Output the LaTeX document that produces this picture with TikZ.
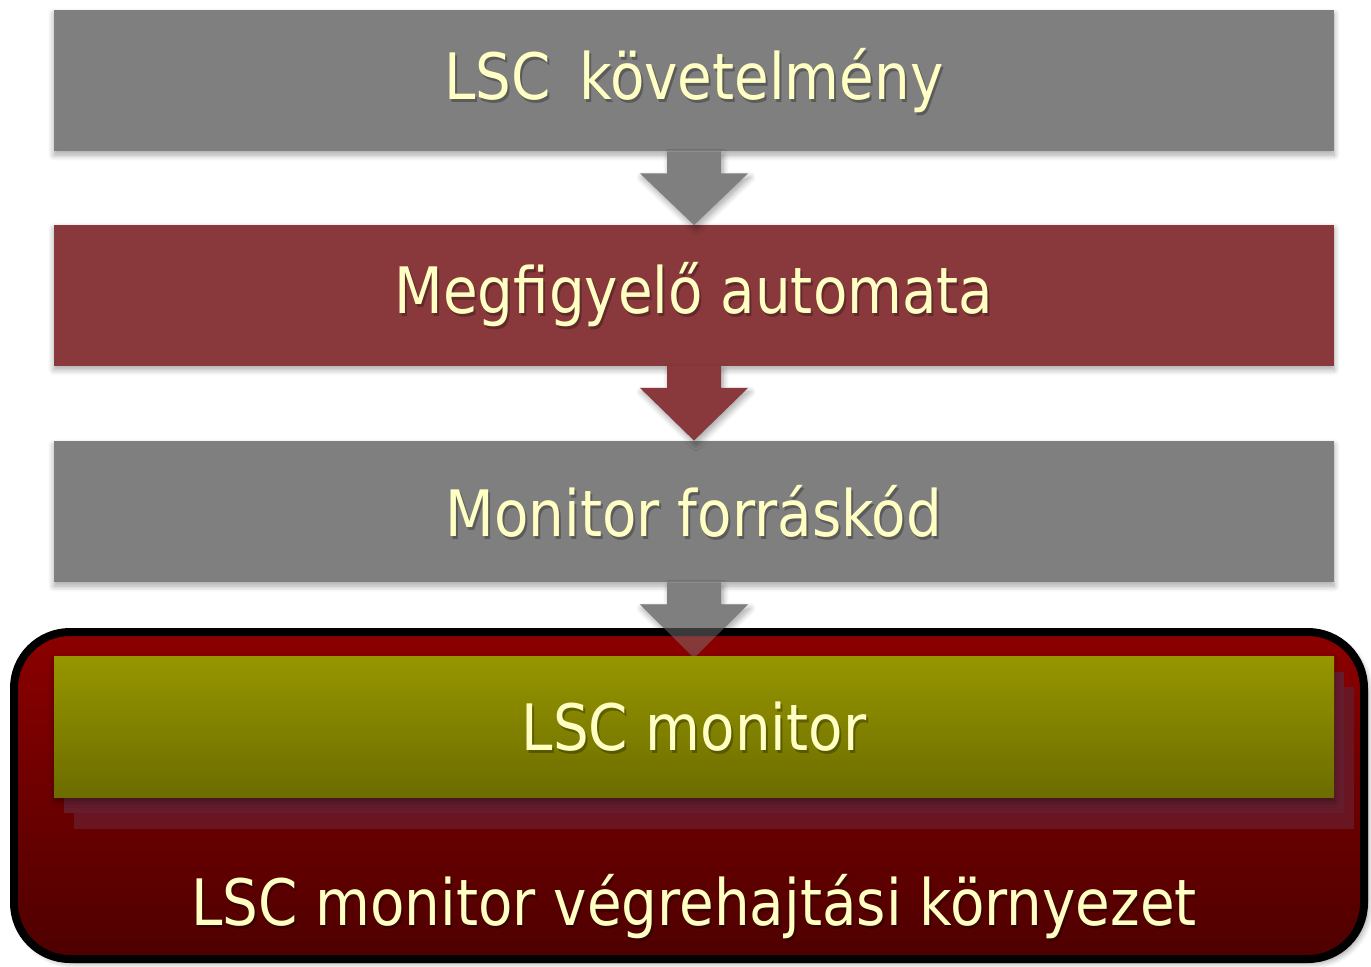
\documentclass[tikz,border=0pt]{standalone}
\usepackage{fontspec}
\setmainfont{DejaVu Sans}[FakeStretch=0.88]
\usetikzlibrary{calc,shadows.blur}
\definecolor{boxgray}{RGB}{127,127,127}
\definecolor{boxred}{RGB}{137,57,60}
\definecolor{txtyellow}{RGB}{255,255,196}
\definecolor{olivetop}{RGB}{150,150,0}
\definecolor{olivebot}{RGB}{108,108,0}
\definecolor{envtop}{RGB}{140,0,0}
\definecolor{envbot}{RGB}{78,0,0}
\definecolor{layerA}{RGB}{101,28,45}
\definecolor{layerB}{RGB}{105,22,34}
\tikzset{
  stage/.style={rectangle, inner sep=0pt, minimum width=640pt, minimum height=70.5pt,
    blur shadow={shadow xshift=0pt, shadow yshift=-2pt, shadow blur radius=3pt,
                 shadow blur steps=8, shadow opacity=35}},
  label/.style={text=txtyellow, font=\fontsize{32}{38}\selectfont, inner sep=0pt},
  labelshadow/.style={text=black, text opacity=0.28, font=\fontsize{32}{38}\selectfont, inner sep=0pt},
  flowarrow/.style={blur shadow={shadow xshift=1pt, shadow yshift=-2pt, shadow blur radius=3pt,
                 shadow blur steps=8, shadow opacity=35}},
}
\newcommand\blockarrow[4]{% style, from node, to node, tip overlap
  \fill[#1] ($(#2.south)+(-27,0)$) -- ($(#2.south)+(27,0)$) -- ($(#2.south)+(27,22)$)
    -- ($(#2.south)+(54,22)$) -- ($(#3.north)+(0,#4)$) -- ($(#2.south)+(-54,22)$)
    -- ($(#2.south)+(-27,22)$) -- cycle;}
\begin{document}
\begin{tikzpicture}[x=0.5pt,y=-0.5pt]
\useasboundingbox (0,0) rectangle (1371,966);

% processing stages
\node[stage, fill=boxgray] (b1) at (694,80.5) {};
\node[labelshadow] at ($(b1)+(2,3)$) {LSC\, követelmény};
\node[label] (t1) at (b1) {LSC\, követelmény};

\node[stage, fill=boxred] (b2) at (694,295) {};
\node[labelshadow] at ($(b2)+(2,3)$) {Megfigyelő automata};
\node[label] (t2) at (b2) {Megfigyelő automata};

\node[stage, fill=boxgray] (b3) at (694,511.5) {};
\node[labelshadow] at ($(b3)+(2,3)$) {Monitor forráskód};
\node[label] (t3) at (b3) {Monitor forráskód};

% monitor block position (needed by the last arrow)
\coordinate (mon) at (694,727);
\path (mon) ++(0,-71) coordinate (montop);

% arrows between the stages
\blockarrow{flowarrow, fill=boxgray}{b1}{b2}{1}
\blockarrow{flowarrow, fill=boxred}{b2}{b3}{0}
\fill[flowarrow, fill=boxgray] ($(b3.south)+(-27,0)$) -- ($(b3.south)+(27,0)$) -- ($(b3.south)+(27,22)$)
    -- ($(b3.south)+(54,22)$) -- ($(montop)+(0,2)$) -- ($(b3.south)+(-54,22)$)
    -- ($(b3.south)+(-27,22)$) -- cycle;

% runtime environment frame
\node[rectangle, inner sep=0pt, minimum width=675pt, minimum height=163.5pt,
      rounded corners=28pt, draw=black, line width=4pt,
      top color=envtop, bottom color=envbot,
      blur shadow={shadow xshift=2pt, shadow yshift=-2pt, shadow blur radius=3pt,
                   shadow blur steps=8, shadow opacity=40}] (env) at (689,795.5) {};
\node[labelshadow] at ($(694,907)+(2,3)$) {LSC monitor végrehajtási környezet};
\node[label] (t5) at (694,907) {LSC monitor végrehajtási környezet};

% the arrow shows through the frame
\fill[fill=boxgray, opacity=0.45] ($(b3.south)+(-27,0)$) -- ($(b3.south)+(27,0)$) -- ($(b3.south)+(27,22)$)
    -- ($(b3.south)+(54,22)$) -- ($(montop)+(0,2)$) -- ($(b3.south)+(-54,22)$)
    -- ($(b3.south)+(-27,22)$) -- cycle;

% stacked layers under the monitor
\fill[layerB] (74,687) rectangle (1354,829);
\fill[layerA] (64,672) rectangle (1344,813);

\node[stage, top color=olivetop, bottom color=olivebot] (m) at (mon) {};
\node[labelshadow] at ($(m)+(2,3)$) {LSC monitor};
\node[label] (t4) at (m) {LSC monitor};
\end{tikzpicture}
\end{document}
